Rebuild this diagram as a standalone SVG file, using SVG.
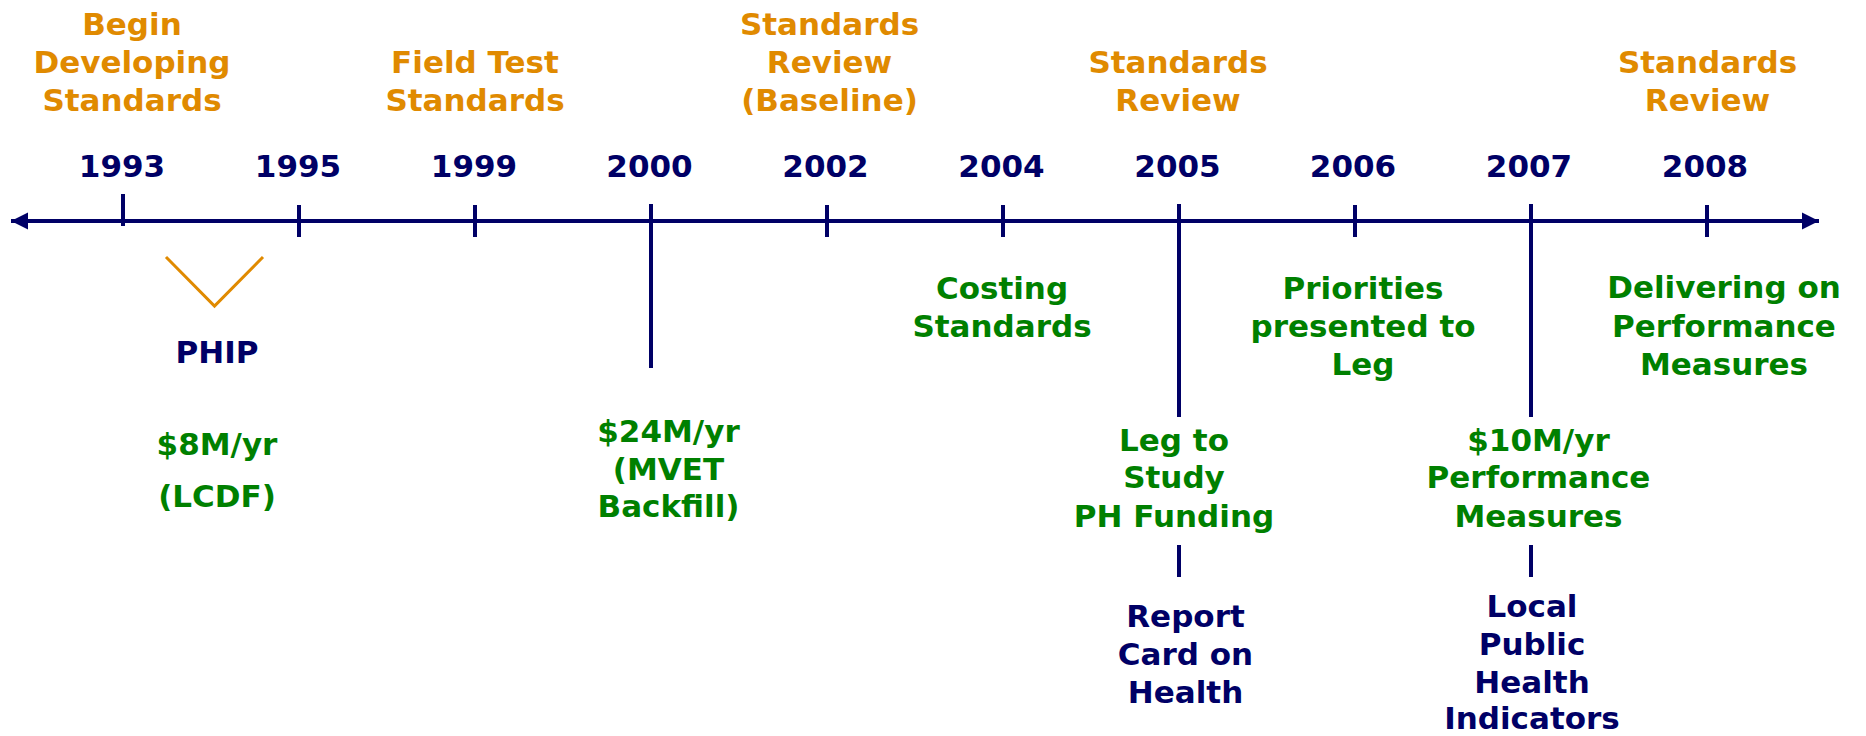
<svg xmlns="http://www.w3.org/2000/svg" width="1866" height="736" viewBox="0 0 1866 736">
  <defs>
    <style>
      text { font-family: "DejaVu Sans", "Liberation Sans", sans-serif; font-weight: bold; font-size: 31px; text-anchor: middle; }
      .orange { fill: #E08A00; }
      .green { fill: #008000; }
      .navy { fill: #000066; }
      .year { fill: #000066; }
      .axis { stroke: #000066; stroke-width: 4; fill: none; }
      .tick { stroke: #000066; stroke-width: 4; fill: none; }
      .vee { stroke: #E08A00; stroke-width: 3; fill: none; }
    </style>
    <marker id="arrow" markerUnits="userSpaceOnUse" markerWidth="18" markerHeight="18" refX="17" refY="9" orient="auto-start-reverse">
      <path d="M0,0.5 L17,9 L0,17.5 z" fill="#000066"/>
    </marker>
  </defs>
  <rect width="1866" height="736" fill="#FFFFFF"/>

  <g id="connectors">
    <line class="axis" x1="11" y1="221" x2="1819" y2="221" marker-start="url(#arrow)" marker-end="url(#arrow)"/>
    <line class="tick" x1="123" y1="194" x2="123" y2="226"/>
    <line class="tick" x1="299" y1="205" x2="299" y2="237"/>
    <line class="tick" x1="475" y1="205" x2="475" y2="237"/>
    <line class="tick" x1="651" y1="204" x2="651" y2="368"/>
    <line class="tick" x1="827" y1="205" x2="827" y2="237"/>
    <line class="tick" x1="1003" y1="205" x2="1003" y2="237"/>
    <line class="tick" x1="1179" y1="204" x2="1179" y2="417"/>
    <line class="tick" x1="1355" y1="205" x2="1355" y2="237"/>
    <line class="tick" x1="1531" y1="204" x2="1531" y2="417"/>
    <line class="tick" x1="1707" y1="205" x2="1707" y2="237"/>
    <line class="tick" x1="1179" y1="545" x2="1179" y2="577"/>
    <line class="tick" x1="1531" y1="545" x2="1531" y2="577"/>
    <polyline class="vee" points="166,257 214.5,306 263,257"/>
  </g>

  <g id="years">
    <text class="year" x="122" y="177">1993</text>
    <text class="year" x="298" y="177">1995</text>
    <text class="year" x="474" y="177">1999</text>
    <text class="year" x="649.5" y="177">2000</text>
    <text class="year" x="825.5" y="177">2002</text>
    <text class="year" x="1001.5" y="177">2004</text>
    <text class="year" x="1177.5" y="177">2005</text>
    <text class="year" x="1353" y="177">2006</text>
    <text class="year" x="1529" y="177">2007</text>
    <text class="year" x="1705" y="177">2008</text>
  </g>

  <g id="begin-developing">
    <text class="orange" x="132" y="35">Begin</text>
    <text class="orange" x="132" y="73">Developing</text>
    <text class="orange" x="132" y="111">Standards</text>
  </g>
  <g id="field-test">
    <text class="orange" x="475" y="73">Field Test</text>
    <text class="orange" x="475" y="111">Standards</text>
  </g>
  <g id="review-baseline">
    <text class="orange" x="829.5" y="35">Standards</text>
    <text class="orange" x="829.5" y="73">Review</text>
    <text class="orange" x="829.5" y="111">(Baseline)</text>
  </g>
  <g id="review-2005">
    <text class="orange" x="1178" y="73">Standards</text>
    <text class="orange" x="1178" y="111">Review</text>
  </g>
  <g id="review-2008">
    <text class="orange" x="1707.5" y="73">Standards</text>
    <text class="orange" x="1707.5" y="111">Review</text>
  </g>

  <g id="phip">
    <text class="navy" x="217" y="363">PHIP</text>
  </g>
  <g id="lcdf">
    <text class="green" x="217" y="455">$8M/yr</text>
    <text class="green" x="217" y="507">(LCDF)</text>
  </g>
  <g id="mvet">
    <text class="green" x="668.5" y="442">$24M/yr</text>
    <text class="green" x="668.5" y="480">(MVET</text>
    <text class="green" x="668.5" y="517">Backfill)</text>
  </g>
  <g id="costing">
    <text class="green" x="1002" y="299">Costing</text>
    <text class="green" x="1002" y="337">Standards</text>
  </g>
  <g id="priorities">
    <text class="green" x="1363" y="299">Priorities</text>
    <text class="green" x="1363" y="337">presented to</text>
    <text class="green" x="1363" y="375">Leg</text>
  </g>
  <g id="delivering">
    <text class="green" x="1724" y="298">Delivering on</text>
    <text class="green" x="1724" y="337">Performance</text>
    <text class="green" x="1724" y="375">Measures</text>
  </g>
  <g id="leg-study">
    <text class="green" x="1174" y="451">Leg to</text>
    <text class="green" x="1174" y="488">Study</text>
    <text class="green" x="1174" y="527">PH Funding</text>
  </g>
  <g id="performance-measures">
    <text class="green" x="1538.5" y="451">$10M/yr</text>
    <text class="green" x="1538.5" y="488">Performance</text>
    <text class="green" x="1538.5" y="527">Measures</text>
  </g>
  <g id="report-card">
    <text class="navy" x="1185.5" y="627">Report</text>
    <text class="navy" x="1185.5" y="665">Card on</text>
    <text class="navy" x="1185.5" y="703">Health</text>
  </g>
  <g id="indicators">
    <text class="navy" x="1532" y="617">Local</text>
    <text class="navy" x="1532" y="655">Public</text>
    <text class="navy" x="1532" y="693">Health</text>
    <text class="navy" x="1532" y="729">Indicators</text>
  </g>
</svg>
